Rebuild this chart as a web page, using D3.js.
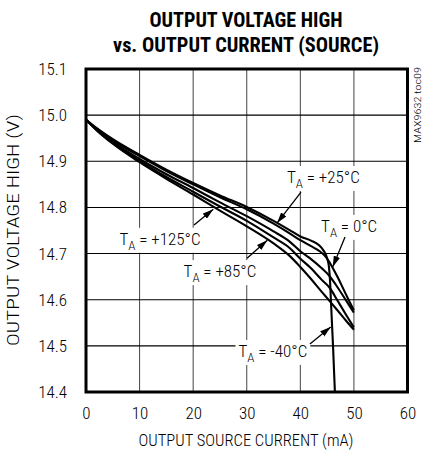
<!DOCTYPE html>
<html><head><meta charset="utf-8">
<script src="https://cdn.jsdelivr.net/npm/d3@7/dist/d3.min.js"></script>
<style>
html,body{margin:0;padding:0;background:#fff;}
svg{display:block;}
</style></head><body>
<svg id="chart" width="428" height="450"></svg>
<script>
// ---------- data ----------
const xTicks = [0, 10, 20, 30, 40, 50, 60];
const yTicks = [14.4, 14.5, 14.6, 14.7, 14.8, 14.9, 15.0, 15.1];
const yTickLabels = ["14.4", "14.5", "14.6", "14.7", "14.8", "14.9", "15.0", "15.1"];

// [output source current (mA), output voltage high (V)]
const tM40 = [[0,14.99],[2,14.972],[5,14.948],[10,14.914],[15,14.882],[20,14.853],[25,14.826],[30,14.801],[35,14.771],[38,14.751],[40,14.737],[42,14.728],[43.5,14.718],[44.3,14.707],[45,14.69],[45.35,14.67],[45.55,14.64],[45.7,14.60],[46.1,14.50],[46.45,14.40]];
const t0   = [[0,14.99],[2,14.971],[5,14.946],[10,14.911],[15,14.879],[20,14.85],[25,14.822],[30,14.796],[35,14.765],[38,14.744],[40,14.729],[42,14.716],[43.5,14.706],[44.5,14.696],[45.4,14.682],[46,14.670],[47,14.648],[48,14.624],[49,14.60],[50,14.577]];
const t25  = [[0,14.99],[2,14.969],[5,14.942],[10,14.905],[15,14.872],[20,14.842],[25,14.811],[30,14.781],[35,14.748],[38,14.726],[40,14.705],[42,14.688],[44,14.668],[45.4,14.652],[47,14.626],[48.5,14.599],[50,14.572]];
const t85  = [[0,14.99],[2,14.968],[5,14.94],[10,14.901],[15,14.866],[20,14.834],[25,14.802],[30,14.771],[35,14.735],[38,14.712],[40,14.689],[42,14.668],[44,14.643],[45.4,14.627],[47,14.597],[48.5,14.568],[50,14.54]];
const t125 = [[0,14.99],[2,14.967],[5,14.938],[10,14.898],[15,14.862],[20,14.828],[25,14.793],[30,14.759],[35,14.722],[38,14.695],[40,14.671],[42,14.645],[44,14.617],[45.4,14.598],[47,14.576],[48.5,14.555],[50,14.535]];
const series = [tM40, t0, t25, t85, t125];

// annotation text, label anchor, arrow start, arrow tip (data coords)
const annLabels = ["+25°C", "0°C", "+125°C", "+85°C", "-40°C"];
const annText  = [[37.5,14.853],[43.86,14.747],[6.25,14.719],[18.2,14.649],[28.46,14.476]];
const annFrom  = [[40.13,14.833],[48.34,14.736],[20.16,14.762],[30.05,14.690],[41.79,14.504]];
const annTip   = [[35.65,14.766],[46.04,14.671],[23.76,14.796],[33.84,14.729],[45.67,14.541]];

// ---------- layout ----------
const NARROW = "'Roboto Condensed','Liberation Sans Narrow','Arial Narrow','DejaVu Sans Condensed',sans-serif";
const LIGHT = 300;
const svg = d3.select("#chart");
const L = 86, R = 407.5, T = 69, B = 392;
const x = d3.scaleLinear().domain([0, 60]).range([L, R]);
const y = d3.scaleLinear().domain([14.4, 15.1]).range([B, T]);

// title
svg.append("text").attr("x", 246).attr("y", 27).attr("text-anchor", "middle")
  .attr("font-family", NARROW).attr("font-weight", 700).attr("font-size", 21)
  .attr("textLength", 193).attr("lengthAdjust", "spacingAndGlyphs")
  .text("OUTPUT VOLTAGE HIGH");
svg.append("text").attr("x", 246).attr("y", 52).attr("text-anchor", "middle")
  .attr("font-family", NARROW).attr("font-weight", 700).attr("font-size", 21)
  .attr("textLength", 266).attr("lengthAdjust", "spacingAndGlyphs")
  .text("vs. OUTPUT CURRENT (SOURCE)");

// grid
const grid = svg.append("g");
grid.selectAll("line.v").data(xTicks.slice(1, -1)).enter().append("line")
  .attr("x1", d => x(d)).attr("x2", d => x(d)).attr("y1", T).attr("y2", B)
  .attr("stroke", "#444").attr("stroke-width", 1);
grid.selectAll("line.h").data(yTicks.slice(1, -1)).enter().append("line")
  .attr("x1", L).attr("x2", R).attr("y1", d => y(d)).attr("y2", d => y(d))
  .attr("stroke", "#000").attr("stroke-width", 1.1);

// axes (labels only)
const xAxis = d3.axisBottom(x).tickValues(xTicks).tickSize(0).tickPadding(15).tickFormat(d3.format("d"));
const gx = svg.append("g").attr("transform", `translate(0,${B})`).call(xAxis);
gx.select(".domain").remove();
gx.selectAll("text").attr("font-family", NARROW).attr("font-weight", LIGHT).attr("font-size", 17).attr("fill", "#000");

const yAxis = d3.axisLeft(y).tickValues(yTicks).tickSize(0).tickPadding(19)
  .tickFormat((d, i) => yTickLabels[i]);
const gy = svg.append("g").attr("transform", `translate(${L},0)`).call(yAxis);
gy.select(".domain").remove();
gy.selectAll("text").attr("font-family", NARROW).attr("font-weight", LIGHT).attr("font-size", 17).attr("fill", "#000");

// axis titles
svg.append("text").attr("x", 246).attr("y", 446).attr("text-anchor", "middle")
  .attr("font-family", NARROW).attr("font-weight", LIGHT).attr("font-size", 17)
  .attr("textLength", 215).attr("lengthAdjust", "spacingAndGlyphs")
  .text("OUTPUT SOURCE CURRENT (mA)");
svg.append("text").attr("transform", "translate(19,230) rotate(-90)").attr("text-anchor", "middle")
  .attr("font-family", NARROW).attr("font-weight", LIGHT).attr("font-size", 17)
  .attr("textLength", 232).attr("lengthAdjust", "spacingAndGlyphs")
  .text("OUTPUT VOLTAGE HIGH (V)");

// side id
svg.append("text").attr("transform", "translate(421,143) rotate(-90)")
  .attr("font-family", NARROW).attr("font-weight", LIGHT).attr("font-size", 9)
  .attr("textLength", 76).attr("lengthAdjust", "spacingAndGlyphs")
  .text("MAX9632 toc09");

// annotation labels with white boxes
const ann = svg.append("g");
annLabels.forEach((lab, i) => {
  const g = ann.append("g");
  const t = g.append("text").attr("x", x(annText[i][0])).attr("y", y(annText[i][1]))
    .attr("font-family", NARROW).attr("font-weight", LIGHT).attr("font-size", 17).attr("fill", "#000");
  t.append("tspan").text("T");
  t.append("tspan").attr("font-size", 13).attr("dy", 5).text("A");
  t.append("tspan").attr("dy", -5).text(" = " + lab);
  const bb = t.node().getBBox();
  g.insert("rect", "text").attr("x", bb.x - 3).attr("y", bb.y - 1)
    .attr("width", bb.width + 6).attr("height", bb.height + 1).attr("fill", "#fff");
});

// curves
const line = d3.line().x(d => x(d[0])).y(d => y(d[1])).curve(d3.curveMonotoneX);
svg.append("g").selectAll("path").data(series).enter().append("path")
  .attr("d", line).attr("fill", "none").attr("stroke", "#000")
  .attr("stroke-width", 2.1).attr("stroke-linejoin", "round");

// arrows
svg.append("defs").append("marker").attr("id", "ah")
  .attr("viewBox", "0 0 10 6").attr("refX", 10).attr("refY", 3)
  .attr("markerWidth", 11).attr("markerHeight", 7).attr("markerUnits", "userSpaceOnUse")
  .attr("orient", "auto")
  .append("path").attr("d", "M0,0 L10,3 L0,6 Z").attr("fill", "#000");
annTip.forEach((tp, i) => {
  svg.append("line").attr("x1", x(annFrom[i][0])).attr("y1", y(annFrom[i][1]))
    .attr("x2", x(tp[0])).attr("y2", y(tp[1]))
    .attr("stroke", "#000").attr("stroke-width", 1.3).attr("marker-end", "url(#ah)");
});

// frame
svg.append("rect").attr("x", L).attr("y", T).attr("width", R - L).attr("height", B - T)
  .attr("fill", "none").attr("stroke", "#000").attr("stroke-width", 3);
</script>
</body></html>
